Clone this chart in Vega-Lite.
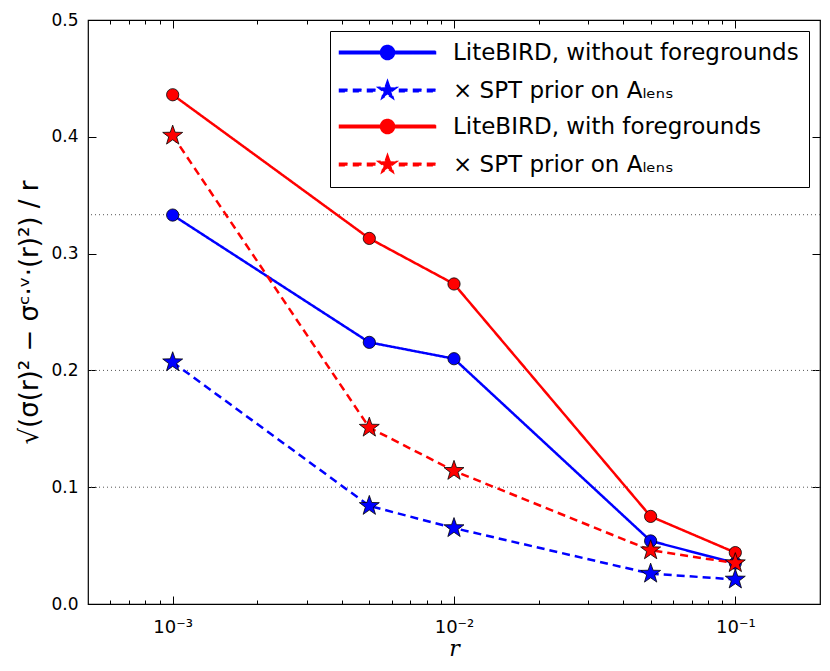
{
  "$schema": "https://vega.github.io/schema/vega-lite/v6.json",
  "width": 732,
  "height": 584,
  "autosize": {"type": "none"},
  "padding": {"left": 88, "top": 20, "right": 10, "bottom": 67},
  "background": "white",
  "config": {
    "view": {"stroke": "black", "strokeWidth": 1.2},
    "font": "DejaVu Sans",
    "axis": {"domain": false, "grid": false, "tickColor": "black", "tickWidth": 1, "labelColor": "black", "labelFont": "DejaVu Sans", "labelFontSize": 17, "titleColor": "black"}
  },
  "datasets": {
    "curves": [
      {"r": 0.001, "value": 0.333, "series": "nofg"},
      {"r": 0.005, "value": 0.224, "series": "nofg"},
      {"r": 0.01, "value": 0.210, "series": "nofg"},
      {"r": 0.05, "value": 0.054, "series": "nofg"},
      {"r": 0.1, "value": 0.035, "series": "nofg"},
      {"r": 0.001, "value": 0.207, "series": "nofg_spt"},
      {"r": 0.005, "value": 0.084, "series": "nofg_spt"},
      {"r": 0.01, "value": 0.065, "series": "nofg_spt"},
      {"r": 0.05, "value": 0.026, "series": "nofg_spt"},
      {"r": 0.1, "value": 0.021, "series": "nofg_spt"},
      {"r": 0.001, "value": 0.436, "series": "fg"},
      {"r": 0.005, "value": 0.313, "series": "fg"},
      {"r": 0.01, "value": 0.274, "series": "fg"},
      {"r": 0.05, "value": 0.075, "series": "fg"},
      {"r": 0.1, "value": 0.044, "series": "fg"},
      {"r": 0.001, "value": 0.401, "series": "fg_spt"},
      {"r": 0.005, "value": 0.151, "series": "fg_spt"},
      {"r": 0.01, "value": 0.114, "series": "fg_spt"},
      {"r": 0.05, "value": 0.046, "series": "fg_spt"},
      {"r": 0.1, "value": 0.035, "series": "fg_spt"}
    ],
    "levels": [
      {"level": 0.1},
      {"level": 0.2},
      {"level": 0.3333}
    ]
  },
  "resolve": {"axis": {"x": "independent", "y": "independent"}},
  "layer": [
    {
      "data": {"name": "levels"},
      "mark": {"type": "rule", "color": "#555555", "strokeWidth": 1, "strokeDash": [1, 3]},
      "encoding": {
        "y": {"field": "level", "type": "quantitative", "scale": {"domain": [0, 0.5], "nice": false}, "axis": null}
      }
    },
    {
      "data": {"name": "curves"},
      "mark": {"type": "line", "strokeWidth": 2.5},
      "encoding": {
        "x": {
          "field": "r", "type": "quantitative",
          "scale": {"type": "log", "domain": [0.0005, 0.2], "nice": false},
          "axis": {
            "orient": "bottom", "values": [0.001, 0.01, 0.1], "tickSize": -8, "labelPadding": 22, "labelFontSize": 18,
            "labelExpr": "datum.value < 0.005 ? '10⁻³' : datum.value < 0.05 ? '10⁻²' : '10⁻¹'",
            "title": "r", "titleFont": "DejaVu Serif", "titleFontStyle": "italic", "titleFontWeight": "normal", "titleFontSize": 22, "titlePadding": 2
          }
        },
        "y": {
          "field": "value", "type": "quantitative",
          "scale": {"domain": [0, 0.5], "nice": false},
          "axis": {
            "orient": "left", "values": [0, 0.1, 0.2, 0.3, 0.4, 0.5], "format": ".1f", "tickSize": -8, "labelPadding": 18,
            "title": "√(σ(r)² − σᶜ·ᵛ·(r)²) / r", "titleFont": "DejaVu Sans", "titleFontWeight": "normal", "titleFontSize": 26, "titlePadding": 8
          }
        },
        "color": {
          "field": "series", "type": "nominal",
          "scale": {"domain": ["nofg", "nofg_spt", "fg", "fg_spt"], "range": ["#0000ff", "#0000ff", "#ff0000", "#ff0000"]},
          "legend": {
            "title": null, "orient": "top-right", "offset": 11, "padding": 10,
            "strokeColor": "black", "fillColor": "white",
            "symbolSize": 400, "symbolOffset": 36, "labelOffset": 54, "rowPadding": 12,
            "labelFont": "DejaVu Sans", "labelFontSize": 23, "labelColor": "black", "labelLimit": 500,
            "labelExpr": "datum.value == 'nofg' ? 'LiteBIRD, without foregrounds' : datum.value == 'fg' ? 'LiteBIRD, with foregrounds' : '× SPT prior on Aₗₑₙₛ'",
            "encode": {"symbols": {"update": {
              "shape": {"signal": "datum.value == 'nofg' || datum.value == 'fg' ? 'M-4.8,-0.12H4.8V0.12H-4.8ZM0.7,0A0.7,0.7,0,1,1,-0.7,0A0.7,0.7,0,1,1,0.7,0Z' : 'M-4.8,-0.12H-4V0.12H-4.8ZM-3.4,-0.12H-2.6V0.12H-3.4ZM-2,-0.12H-1.2V0.12H-2ZM1.2,-0.12H2V0.12H1.2ZM2.6,-0.12H3.4V0.12H2.6ZM4,-0.12H4.8V0.12H4ZM0,-1L0.235,-0.324L0.951,-0.309L0.38,0.124L0.588,0.809L0,0.4L-0.588,0.809L-0.38,0.124L-0.951,-0.309L-0.235,-0.324Z'"},
              "fill": {"signal": "datum.value == 'nofg' || datum.value == 'nofg_spt' ? '#0000ff' : '#ff0000'"},
              "stroke": {"value": "transparent"},
              "size": {"value": 400},
              "opacity": {"value": 1}
            }}}
          }
        },
        "strokeDash": {"field": "series", "type": "nominal", "scale": {"domain": ["nofg", "nofg_spt", "fg", "fg_spt"], "range": [[1, 0], [8, 5], [1, 0], [8, 5]]}}
      }
    },
    {
      "data": {"name": "curves"},
      "transform": [{"filter": {"field": "series", "oneOf": ["nofg", "fg"]}}],
      "mark": {"type": "point", "shape": "circle", "size": 150, "filled": true, "opacity": 1, "stroke": "black", "strokeWidth": 0.8},
      "encoding": {
        "x": {
          "field": "r", "type": "quantitative",
          "axis": {
            "orient": "bottom", "values": [0.0006, 0.0007, 0.0008, 0.0009, 0.002, 0.003, 0.004, 0.005, 0.006, 0.007, 0.008, 0.009, 0.02, 0.03, 0.04, 0.05, 0.06, 0.07, 0.08, 0.09],
            "tickSize": -4, "labels": false, "title": null
          }
        },
        "y": {
          "field": "value", "type": "quantitative",
          "axis": {"orient": "right", "values": [0, 0.1, 0.2, 0.3, 0.4, 0.5], "tickSize": -8, "labels": false, "title": null}
        },
        "color": {"field": "series", "type": "nominal"}
      }
    },
    {
      "data": {"name": "curves"},
      "transform": [{"filter": {"field": "series", "oneOf": ["nofg_spt", "fg_spt"]}}],
      "mark": {
        "type": "point", "size": 440, "filled": true, "opacity": 1, "stroke": "black", "strokeWidth": 0.8,
        "shape": "M0,-1L0.235,-0.324L0.951,-0.309L0.38,0.124L0.588,0.809L0,0.4L-0.588,0.809L-0.38,0.124L-0.951,-0.309L-0.235,-0.324Z"
      },
      "encoding": {
        "x": {"field": "r", "type": "quantitative", "axis": {"orient": "top", "values": [0.001, 0.01, 0.1], "tickSize": -8, "labels": false, "title": null}},
        "y": {"field": "value", "type": "quantitative", "axis": null},
        "color": {"field": "series", "type": "nominal"}
      }
    },
    {
      "data": {"name": "curves"},
      "mark": {"type": "point", "opacity": 0},
      "encoding": {
        "x": {
          "field": "r", "type": "quantitative",
          "axis": {
            "orient": "top", "values": [0.0006, 0.0007, 0.0008, 0.0009, 0.002, 0.003, 0.004, 0.005, 0.006, 0.007, 0.008, 0.009, 0.02, 0.03, 0.04, 0.05, 0.06, 0.07, 0.08, 0.09],
            "tickSize": -4, "labels": false, "title": null
          }
        },
        "y": {"field": "value", "type": "quantitative", "axis": null}
      }
    }
  ]
}
